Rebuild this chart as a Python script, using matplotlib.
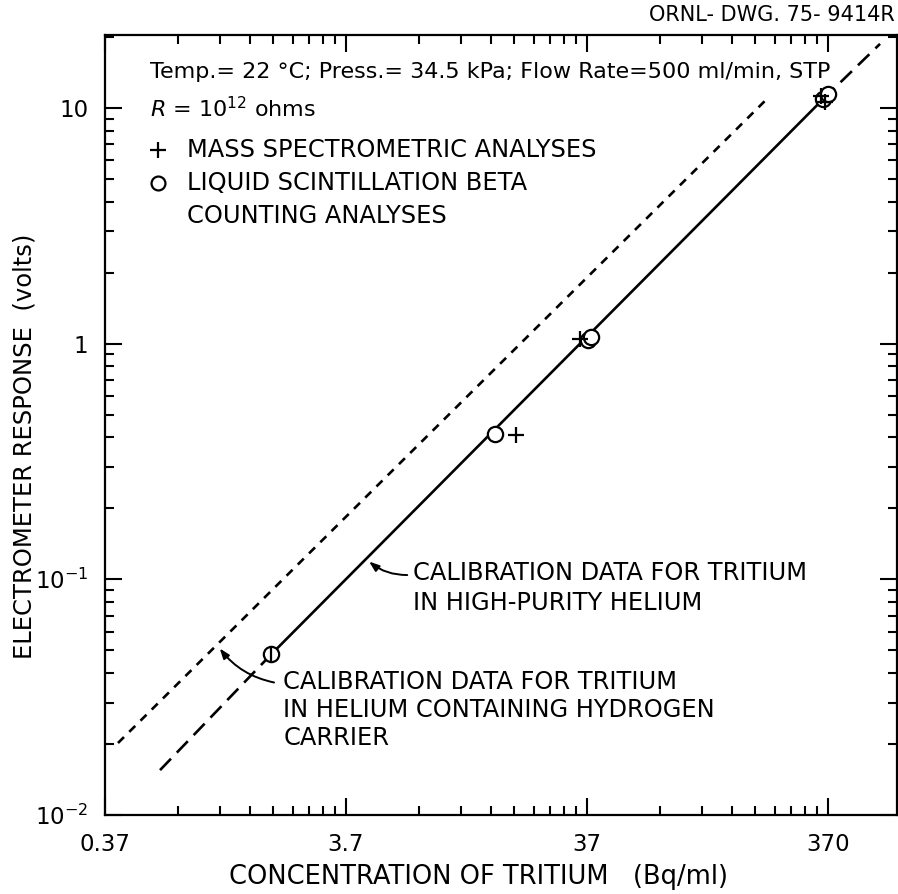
import matplotlib
matplotlib.use("Agg")
import matplotlib.pyplot as plt
from matplotlib.ticker import FixedLocator, FixedFormatter, NullFormatter

plt.rcParams['font.family'] = ['DejaVu Sans']
plt.rcParams['mathtext.fontset'] = 'dejavusans'

# liquid scintillation beta counting (circles)
ls_x = [1.81, 15.4, 37.5, 38.5, 353, 370]
ls_y = [0.048, 0.415, 1.04, 1.07, 10.9, 11.5]
# mass spectrometric analyses (plus signs)
ms_x = [18.8, 34.6, 345, 360]
ms_y = [0.41, 1.05, 11.2, 10.6]

# calibration line, high-purity helium (solid part + dashed extensions)
hp_x = [1.81, 353]
hp_y = [0.048, 10.9]
hp_lo_x = [0.626, 1.81]
hp_lo_y = [0.0155, 0.048]
hp_hi_x = [353, 608]
hp_hi_y = [10.9, 18.7]
# calibration line, helium with hydrogen carrier
h2_x = [0.419, 206]
h2_y = [0.0202, 10.9]

x_major = [0.37, 3.7, 37, 370]
x_labels = ['0.37', '3.7', '37', '370']
y_major = [0.01, 0.1, 1, 10]
y_labels = [r'$10^{-2}$', r'$10^{-1}$', '1', '10']

fig = plt.figure(figsize=(8.98, 8.94), dpi=100)
ax = fig.add_axes([0.1169, 0.0884, 0.8820, 0.8725])
ax.set_xscale('log')
ax.set_yscale('log')
ax.set_xlim(0.37, 715)
ax.set_ylim(0.01, 20.4)

lw = 1.9
ax.plot(hp_x, hp_y, color='black', lw=lw, solid_capstyle='butt')
ax.plot(hp_lo_x, hp_lo_y, color='black', lw=lw, linestyle=(0, (6, 3.2)))
ax.plot(hp_hi_x, hp_hi_y, color='black', lw=lw, linestyle=(0, (6, 3.2)))
ax.plot(h2_x, h2_y, color='black', lw=lw, linestyle=(0, (3.2, 2.8)))

ax.plot(ls_x, ls_y, 'o', ms=11, mfc='white', mec='black', mew=1.6, zorder=5)
ax.plot(ls_x[0], ls_y[0], '|', ms=11, mec='black', mew=1.6, zorder=6)
ax.plot(ms_x, ms_y, '+', ms=11, mec='black', mew=1.6, zorder=6)

# ticks
ax.xaxis.set_major_locator(FixedLocator(x_major))
ax.xaxis.set_major_formatter(FixedFormatter(x_labels))
x_minor = [b * m for b in [0.37, 3.7, 37, 370] for m in range(2, 10)]
ax.xaxis.set_minor_locator(FixedLocator(x_minor))
ax.xaxis.set_minor_formatter(NullFormatter())
ax.yaxis.set_major_locator(FixedLocator(y_major))
ax.yaxis.set_major_formatter(FixedFormatter(y_labels))
y_minor = [b * m for b in [0.01, 0.1, 1, 10] for m in range(2, 10)]
ax.yaxis.set_minor_locator(FixedLocator(y_minor))
ax.yaxis.set_minor_formatter(NullFormatter())

ax.tick_params(which='both', direction='in', top=True, right=True, width=1.5, colors='black')
ax.tick_params(which='major', length=12)
ax.tick_params(which='minor', length=6.5)
ax.tick_params(axis='x', which='major', pad=13, labelsize=16.5)
ax.tick_params(axis='y', which='major', pad=12, labelsize=16.5)
for s in ax.spines.values():
    s.set_linewidth(1.6)

ax.set_xlabel('CONCENTRATION OF TRITIUM   (Bq/ml)', fontsize=18.5, va='center')
ax.xaxis.set_label_coords(0.471, -0.0795)
ax.set_ylabel('ELECTROMETER RESPONSE  (volts)', fontsize=17.5, va='center')
ax.yaxis.set_label_coords(-0.101, 0.473)

# header notes
tfs = 17.4
ax.text(0.057, 0.9526, 'Temp.= 22 °C; Press.= 34.5 kPa; Flow Rate=500 ml/min, STP',
        transform=ax.transAxes, fontsize=16, va='center', ha='left')
ax.text(0.057, 0.906, r'$R$ = 10$^{12}$ ohms', transform=ax.transAxes,
        fontsize=16, va='center', ha='left')
ax.plot([0.067], [0.8526], '+', ms=11, mec='black', mew=1.6, transform=ax.transAxes)
ax.text(0.1035, 0.8526, 'MASS SPECTROMETRIC ANALYSES', transform=ax.transAxes,
        fontsize=tfs, va='center', ha='left')
ax.plot([0.067], [0.81], 'o', ms=10, mfc='white', mec='black', mew=1.6, transform=ax.transAxes)
ax.text(0.1035, 0.81, 'LIQUID SCINTILLATION BETA', transform=ax.transAxes,
        fontsize=tfs, va='center', ha='left')
ax.text(0.1035, 0.768, 'COUNTING ANALYSES', transform=ax.transAxes,
        fontsize=tfs, va='center', ha='left')

fig.text(0.9967, 0.983, 'ORNL- DWG. 75- 9414R', fontsize=15, ha='right', va='center')

# annotations
ax.text(7.02, 0.0919, 'CALIBRATION DATA FOR TRITIUM\nIN HIGH-PURITY HELIUM',
        fontsize=tfs, ha='left', va='center', linespacing=1.33)
ax.annotate('', xy=(4.52, 0.121), xytext=(6.82, 0.1043),
            arrowprops=dict(arrowstyle='-|>,head_length=0.6,head_width=0.22',
                            color='black', lw=1.4, connectionstyle='arc3,rad=-0.2'))
ax.text(2.03, 0.0279, 'CALIBRATION DATA FOR TRITIUM\nIN HELIUM CONTAINING HYDROGEN\nCARRIER',
        fontsize=tfs, ha='left', va='center', linespacing=1.21)
ax.annotate('', xy=(1.09, 0.052), xytext=(1.91, 0.0363),
            arrowprops=dict(arrowstyle='-|>,head_length=0.6,head_width=0.22',
                            color='black', lw=1.4, connectionstyle='arc3,rad=-0.2'))

fig.savefig('out.png', dpi=100)
